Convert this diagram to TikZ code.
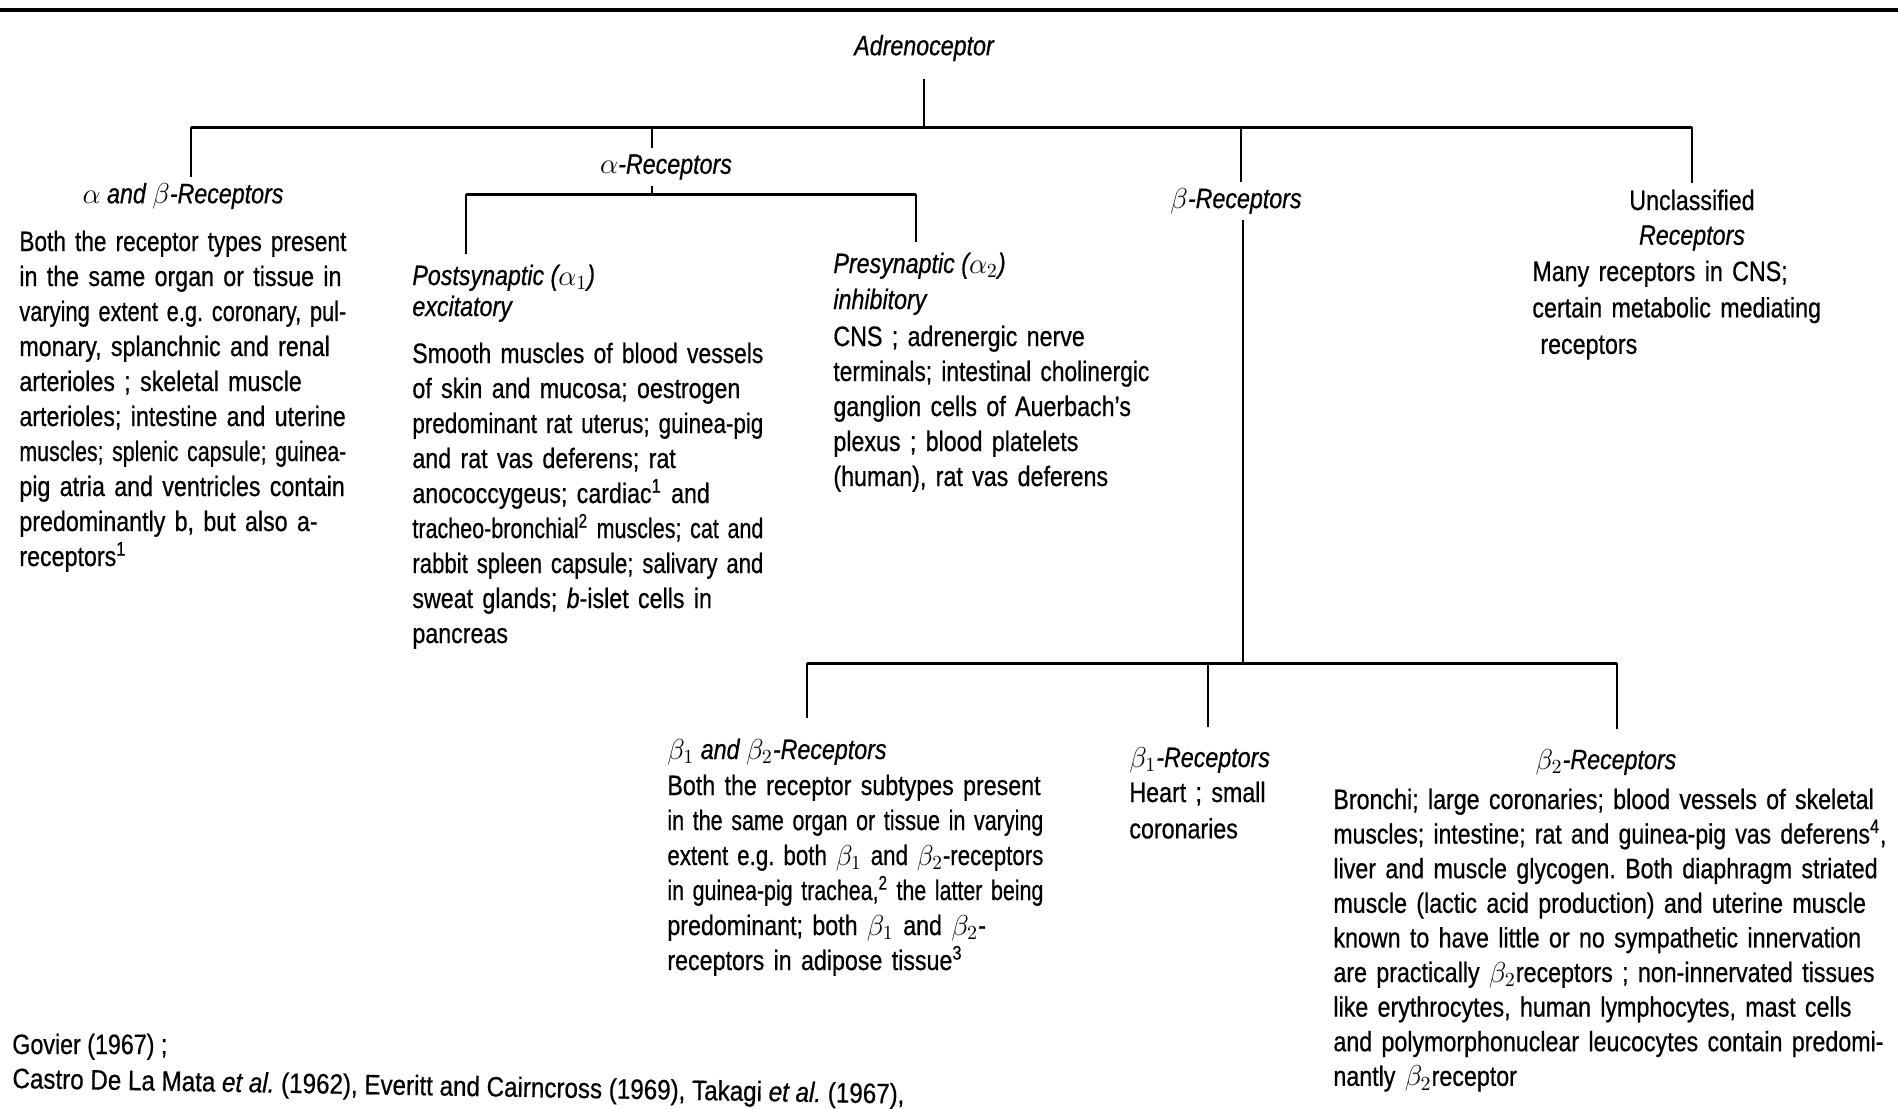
\documentclass[tikz,border=0pt]{standalone}
\usepackage{fontspec}
\setmainfont{Liberation Sans}[FakeStretch=0.83, FakeBold=0.6]
\usepackage{graphicx}
\frenchspacing
\newlength\flw
\newcommand\fitln[1]{\settowidth\flw{#1}\ifdim\flw>\linewidth\pgfmathsetmacro\flr{\linewidth/\flw}\scalebox{\flr}[1]{#1}\else\makebox[\linewidth][s]{#1}\fi}
\begin{document}
\begin{tikzpicture}[x=0.5pt,y=-0.5pt,
  font=\fontsize{14}{17.5}\selectfont,
  lbl/.style={font=\fontsize{14}{17.5}\selectfont\itshape, inner sep=3pt},
  hd/.style={font=\fontsize{14}{17.5}\selectfont\itshape, inner sep=0pt, anchor=base west},
  body/.style={font=\fontsize{14}{17.5}\selectfont, inner sep=0pt, anchor=base west, align=left},
  rulel/.style={line width=1.8pt},
  bar/.style={line width=1.5pt},
  stem/.style={line width=1.2pt}]
\path[use as bounding box] (0,0) rectangle (1898,1108);
\clip (0,0) rectangle (1898,1108);
\fill[white] (0,0) rectangle (1898,1108);

% top rule
\coordinate (r0) at (0,10);
\coordinate (r1) at (1898,10);
\draw[rulel] (r0) -- (r1);

% root
\node[lbl] (adr) at (924,48) {Adrenoceptor};
\coordinate (m) at (924,127);
\draw[stem, shorten <=6pt] (adr.south) -- (m);

% main bar
\coordinate (jL) at (191,127);
\coordinate (jA) at (652,127);
\coordinate (jB) at (1241,127);
\coordinate (jU) at (1692,127);
\draw[bar] (jL) -- (jU);

% level-1 labels
\node[lbl] (lab1) at (183,196) {$\alpha$ and $\beta$-Receptors};
\node[lbl] (alab) at (666,167) {$\alpha$-Receptors};
\node[lbl] (blab) at (1236,201) {$\beta$-Receptors};
\node[lbl, font=\fontsize{14}{17.5}\selectfont] (unc) at (1692,200) {Unclassified};
\node[lbl] (unc2) at (1692,238) {Receptors};

\draw[stem] (jL) -- (jL |- lab1.north);
\draw[stem] (jA) -- (jA |- alab.north);
\draw[stem] (jB) -- (jB |- blab.north);
\draw[stem] (jU) -- (jU |- unc.north);

% alpha sub-tree
\coordinate (ja0) at (652,194);
\coordinate (ja1) at (466,194);
\coordinate (ja2) at (916,194);
\draw[bar] (ja1) -- (ja2);
\draw[stem] (alab.south -| ja0) -- (ja0);

\node[hd] (post) at (412,285) {Postsynaptic ($\alpha_1$)};
\node[hd] (postb) at (412,316) {excitatory};
\node[hd] (pre) at (833,273) {Presynaptic ($\alpha_2$)};
\node[hd] (preb) at (833,309) {inhibitory};
\draw[stem, shorten >=5pt] (ja1) -- (ja1 |- post.north);
\draw[stem, shorten >=5pt] (ja2) -- (ja2 |- pre.north);

% beta sub-tree
\coordinate (jbT) at (1243,663);
\coordinate (jb1) at (807,663);
\coordinate (jb2) at (1208,663);
\coordinate (jb3) at (1617,663);
\draw[stem] (blab.south -| jbT) -- (jbT);
\draw[bar] (jb1) -- (jb3);

\node[hd] (b12h) at (667,759) {$\beta_1$ and $\beta_2$-Receptors};
\node[hd] (b1h) at (1129,767) {$\beta_1$-Receptors};
\node[lbl, inner sep=0pt] (b2h) at (1606,762) {$\beta_2$-Receptors};
\draw[stem, shorten >=10pt] (jb1) -- (jb1 |- b12h.north);
\draw[stem, shorten >=10pt] (jb2) -- (jb2 |- b1h.north);
\draw[stem, shorten >=10pt] (jb3) -- (jb3 |- b2h.north);

% bodies
\node[body, text width=163.5pt] (abt) at (19,251) {%
\fitln{Both the receptor types present}\\
\fitln{in the same organ or tissue in}\\
\fitln{varying extent e.g. coronary, pul-}\\
\fitln{monary, splanchnic and renal}\\
\fitln{arterioles ; skeletal muscle}\\
\fitln{arterioles; intestine and uterine}\\
\fitln{muscles; splenic capsule; guinea-}\\
\fitln{pig atria and ventricles contain}\\
\fitln{predominantly b, but also a-}\\
receptors\textsuperscript{1}};

\node[body, text width=175.5pt] (postt) at (412,363) {%
\fitln{Smooth muscles of blood vessels}\\
\fitln{of skin and mucosa; oestrogen}\\
\fitln{predominant rat uterus; guinea-pig}\\
\fitln{and rat vas deferens; rat}\\
\fitln{anococcygeus; cardiac\textsuperscript{1} and}\\
\fitln{tracheo-bronchial\textsuperscript{2} muscles; cat and}\\
\fitln{rabbit spleen capsule; salivary and}\\
\fitln{sweat glands; \textit{b}-islet cells in}\\
pancreas};

\node[body, text width=158pt] (pret) at (833,346) {%
\fitln{CNS ; adrenergic nerve}\\
\fitln{terminals; intestinal cholinergic}\\
\fitln{ganglion cells of Auerbach's}\\
\fitln{plexus ; blood platelets}\\
(human), rat vas deferens};

\node[body, text width=160pt, font=\fontsize{14}{18.2}\selectfont] (unct) at (1532,281) {%
Many receptors in CNS;\\
certain metabolic mediating\\
\hspace*{4pt}receptors};

\node[body, text width=188pt] (b12t) at (667,795) {%
\fitln{Both the receptor subtypes present}\\
\fitln{in the same organ or tissue in varying}\\
\fitln{extent e.g. both $\beta_1$ and $\beta_2$-receptors}\\
\fitln{in guinea-pig trachea,\textsuperscript{2} the latter being}\\
\fitln{predominant; both $\beta_1$ and $\beta_2$-}\\
receptors in adipose tissue\textsuperscript{3}};

\node[body, text width=80pt, font=\fontsize{14}{18.2}\selectfont] (b1t) at (1129,802) {%
Heart ; small\\
coronaries};

\node[body, text width=276.5pt, font=\fontsize{14}{17.3}\selectfont] (b2t) at (1333,809) {%
\fitln{Bronchi; large coronaries; blood vessels of skeletal}\\
\fitln{muscles; intestine; rat and guinea-pig vas deferens\textsuperscript{4},}\\
\fitln{liver and muscle glycogen. Both diaphragm striated}\\
\fitln{muscle (lactic acid production) and uterine muscle}\\
\fitln{known to have little or no sympathetic innervation}\\
\fitln{are practically $\beta_2$receptors ; non-innervated tissues}\\
\fitln{like erythrocytes, human lymphocytes, mast cells}\\
\fitln{and polymorphonuclear leucocytes contain predomi-}\\
nantly $\beta_2$receptor};

% footnotes
\node[body] (fn1) at (12,1054) {Govier (1967) ;};
\node[body, rotate=-1.0] (fn2) at (12,1088) {\scalebox{1.04}[1]{Castro De La Mata \textit{et al.} (1962), Everitt and Cairncross (1969), Takagi \textit{et al.} (1967),}};
\end{tikzpicture}
\end{document}
